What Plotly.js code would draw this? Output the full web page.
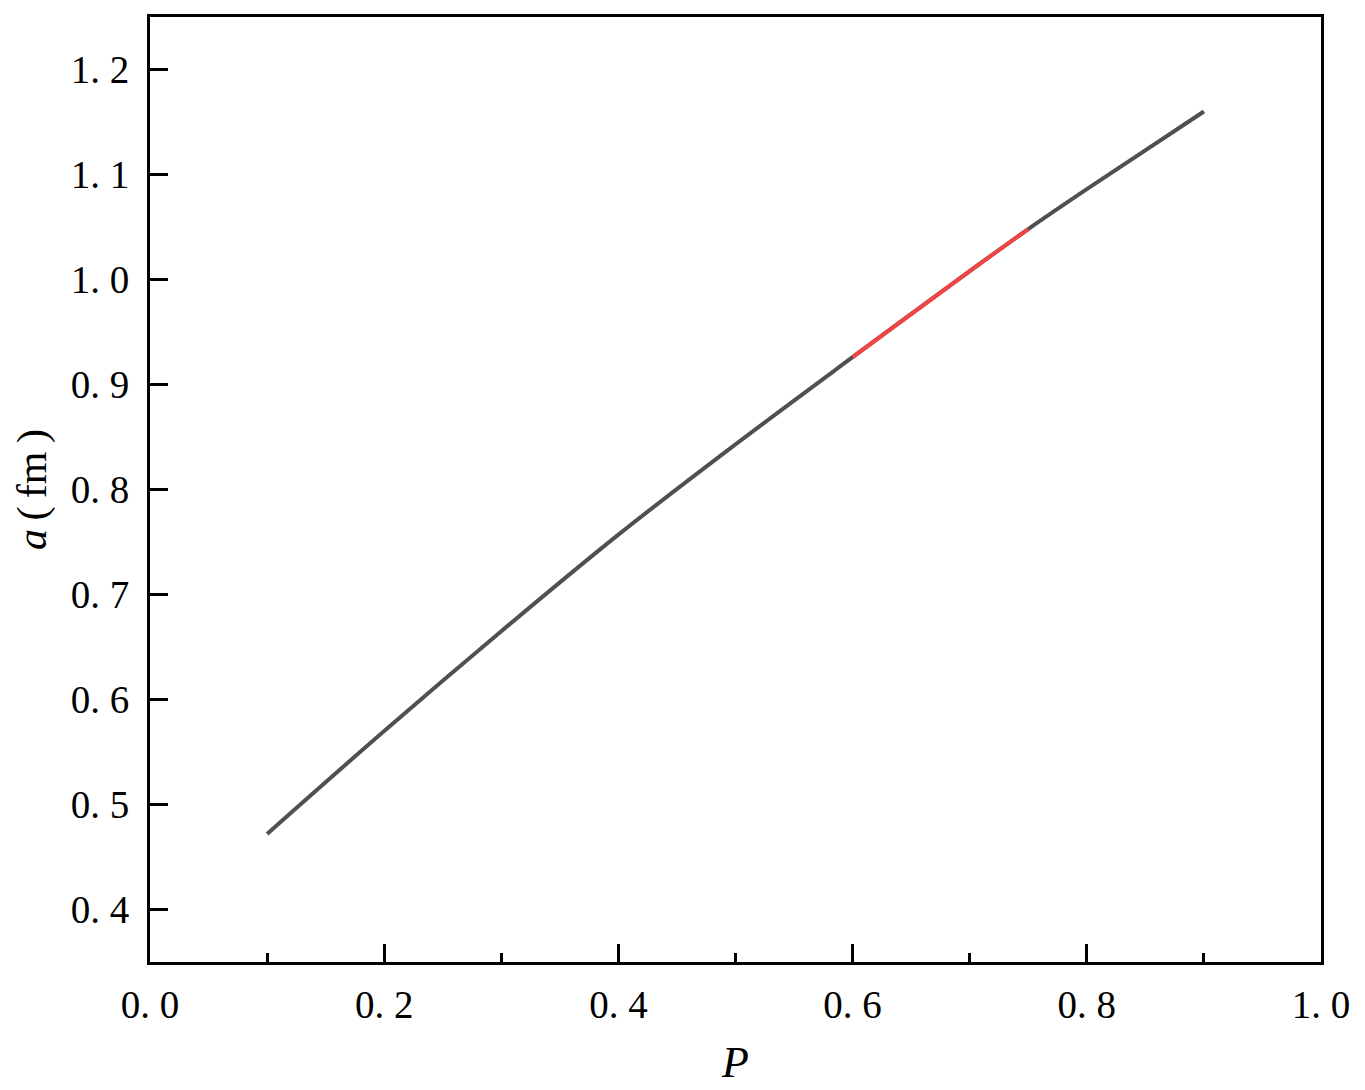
<!DOCTYPE html>
<html>
<head>
<meta charset="utf-8">
<script src="https://cdn.plot.ly/plotly-3.0.1.min.js"></script>
<style>
  body { margin: 0; background: #fff; }
  #plot { width: 1365px; height: 1090px; }
</style>
</head>
<body>
<div id="plot"></div>
<script>
// values
const P = [0.1, 0.2, 0.3, 0.4, 0.5, 0.6, 0.7, 0.75, 0.8, 0.9];
const a = [0.472, 0.570, 0.665, 0.757, 0.843, 0.926, 1.008, 1.048, 1.086, 1.160];

// highlighted part of the curve
const Pred = [0.6, 0.7, 0.75];
const aRed = [0.926, 1.008, 1.048];

const xTicks = [0, 0.2, 0.4, 0.6, 0.8, 1.0];
const xTickText = ['0. 0', '0. 2', '0. 4', '0. 6', '0. 8', '1. 0'];
const xMinor = [0.1, 0.3, 0.5, 0.7, 0.9];
const yTicks = [0.4, 0.5, 0.6, 0.7, 0.8, 0.9, 1.0, 1.1, 1.2];
const yTickText = ['0. 4', '0. 5', '0. 6', '0. 7', '0. 8', '0. 9', '1. 0', '1. 1', '1. 2'];

const font = '"Liberation Serif", "Times New Roman", serif';

const traces = [
  {x: P, y: a, mode: 'lines', line: {color: '#505050', width: 4, shape: 'spline', smoothing: 1}, hoverinfo: 'skip'},
  {x: Pred, y: aRed, mode: 'lines', line: {color: '#f24444', width: 4, shape: 'spline', smoothing: 1}, hoverinfo: 'skip'}
];

const layout = {
  width: 1365, height: 1090,
  margin: {l: 150, r: 44, t: 17, b: 128},
  showlegend: false,
  paper_bgcolor: '#fff', plot_bgcolor: '#fff',
  font: {family: font, color: '#000', size: 39},
  xaxis: {
    range: [0, 1], showgrid: false, zeroline: false,
    showline: true, mirror: true, linecolor: '#000', linewidth: 3,
    ticks: 'inside', ticklen: 18, tickwidth: 3, tickcolor: '#000',
    tickvals: xTicks, ticktext: xTickText,
    minor: {tickvals: xMinor, ticks: 'inside', ticklen: 9, tickwidth: 3, tickcolor: '#000'},
    ticklabelstandoff: 6,
    title: {text: '<i>P</i>', font: {size: 44}, standoff: 22}
  },
  yaxis: {
    range: [0.35, 1.25], showgrid: false, zeroline: false,
    showline: true, mirror: true, linecolor: '#000', linewidth: 3,
    ticks: 'inside', ticklen: 18, tickwidth: 3, tickcolor: '#000',
    tickvals: yTicks, ticktext: yTickText,
    ticklabelstandoff: 10,
    title: {text: '<i>a</i>\u2009(\u2009fm\u2009)', font: {size: 42}, standoff: 12}
  }
};

Plotly.newPlot('plot', traces, layout, {displayModeBar: false, staticPlot: true});
</script>
</body>
</html>
